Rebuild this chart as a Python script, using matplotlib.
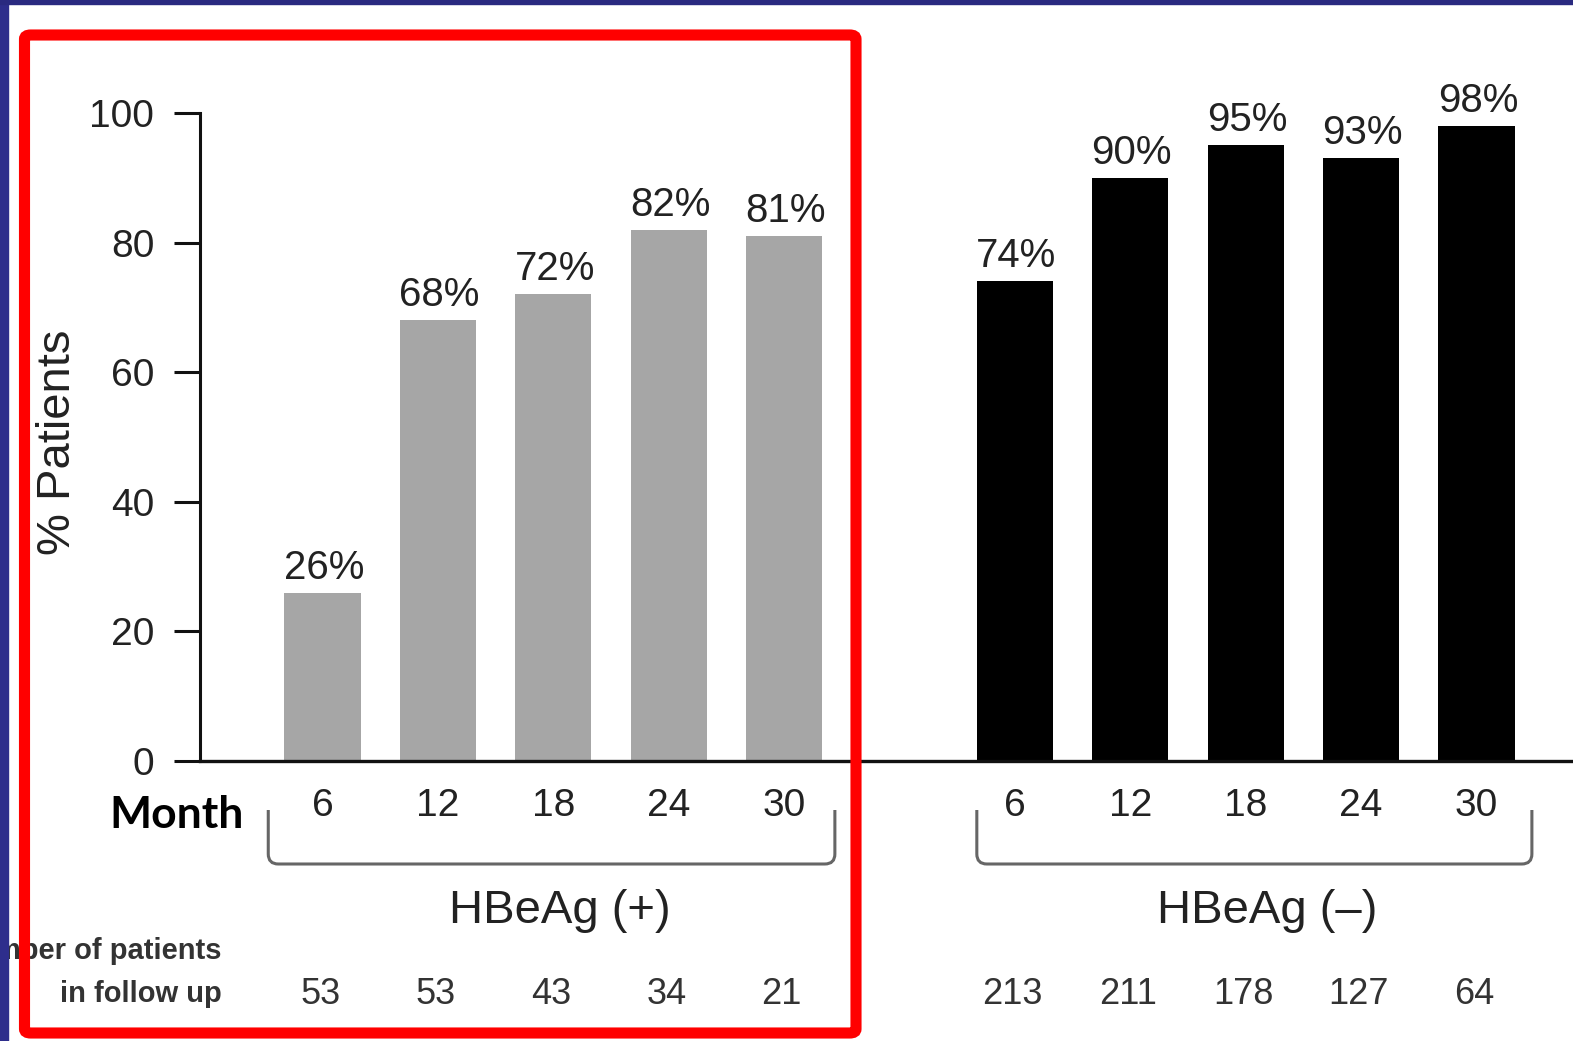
import matplotlib
matplotlib.use("Agg")
import matplotlib.pyplot as plt
from matplotlib.patches import Rectangle, FancyBboxPatch, PathPatch
from matplotlib.path import Path
from matplotlib.transforms import blended_transform_factory

# Data
months = ["6", "12", "18", "24", "30"]
hbeag_pos = [26, 68, 72, 82, 81]
hbeag_neg = [74, 90, 95, 93, 98]
n_pos = [53, 53, 43, 34, 21]
n_neg = [213, 211, 178, 127, 64]
group_labels = ["HBeAg (+)", "HBeAg (\u2013)"]
yticks = [0, 20, 40, 60, 80, 100]

W, H = 1573, 1041
fig = plt.figure(figsize=(W / 100, H / 100), dpi=100)
fig.patch.set_facecolor("white")

plt.rcParams["font.family"] = ["Liberation Sans", "DejaVu Sans"]
TXT = "#222222"

ax = fig.add_axes([200 / W, (H - 761) / H, 1 - 200 / W, (761 - 113) / H])
ax.set_facecolor("none")

gap = 6  # second group offset
pos_x = [i for i in range(len(months))]
neg_x = [i + gap for i in range(len(months))]
bw = 0.66

ax.bar(pos_x, hbeag_pos, width=bw, color="#a6a6a6", zorder=2)
ax.bar(neg_x, hbeag_neg, width=bw, color="#000000", zorder=2)

for xs, vals in ((pos_x, hbeag_pos), (neg_x, hbeag_neg)):
    for x, v in zip(xs, vals):
        ax.annotate(f"{v}%", (x, v), xytext=(1, 18), textcoords="offset points",
                    ha="center", va="center", fontsize=29, color=TXT,
                    annotation_clip=False)

ax.set_xlim((200 - 322.5) / 115.4, (W - 322.5) / 115.4)
ax.set_ylim(0, 100)
ax.set_yticks(yticks)
ax.set_yticklabels([str(t) for t in yticks], fontsize=28, color=TXT)
ax.tick_params(axis="y", length=19, width=2.2, pad=14, color="#111111")
ax.set_xticks([])
for s in ("top", "right"):
    ax.spines[s].set_visible(False)
ax.spines["left"].set_linewidth(2.2)
ax.spines["bottom"].set_linewidth(2.4)
ax.spines["left"].set_color("#111111")
ax.spines["bottom"].set_color("#111111")

fig.text(58 / W, 1 - 442 / H, "% Patients", rotation=90, ha="center",
         va="center", fontsize=34, color=TXT)

# Blended: x in data units, y in figure fraction (measured from top)
tr = blended_transform_factory(ax.transData, fig.transFigure)


def fy(py):
    return 1 - py / H


# Month numbers and follow-up counts
for xs, counts in ((pos_x, n_pos), (neg_x, n_neg)):
    for x, m, c in zip(xs, months, counts):
        ax.text(x, fy(806), m, transform=tr, ha="center", va="center",
                fontsize=28, color=TXT, clip_on=False)
        ax.text(x - 0.02, fy(994), str(c), transform=tr, ha="center",
                va="center", fontsize=26, color="#333333", clip_on=False)


# Brackets under each group
def bracket(x0, x1, ytop, ybot, r):
    # rounded U-shaped bracket, corners in pixel-space radius r
    rx = r / 115.4
    ry = r / H
    yt, yb = fy(ytop), fy(ybot)
    verts = [(x0, yt), (x0, yb + ry), (x0, yb), (x0 + rx, yb),
             (x1 - rx, yb), (x1, yb), (x1, yb + ry), (x1, yt)]
    codes = [Path.MOVETO, Path.LINETO, Path.CURVE3, Path.CURVE3,
             Path.LINETO, Path.CURVE3, Path.CURVE3, Path.LINETO]
    ax.add_patch(PathPatch(Path(verts, codes), transform=tr, fill=False,
                           edgecolor="#666666", lw=2.2, clip_on=False))


bracket(pos_x[0] - 0.47, pos_x[-1] + 0.44, 810, 864, 10)
bracket(neg_x[0] - 0.33, neg_x[-1] + 0.48, 810, 864, 10)

ax.text(2.06, fy(911), group_labels[0], transform=tr, ha="center",
        va="center", fontsize=34, color=TXT, clip_on=False)
ax.text(gap + 2.19, fy(911), group_labels[1], transform=tr, ha="center",
        va="center", fontsize=34, color=TXT, clip_on=False)

fig.text(244 / W, fy(815), "Month", ha="right", va="center", fontsize=32,
         fontweight="bold", family=["Lato", "DejaVu Sans"], color="black")

row_font = ["Liberation Sans Narrow", "Liberation Sans", "DejaVu Sans"]
fig.text(222 / W, fy(951), "Number of patients", ha="right", va="center",
         fontsize=21, fontweight="bold", family=row_font, color="#333333")
fig.text(222 / W, fy(994), "in follow up", ha="right", va="center",
         fontsize=21, fontweight="bold", family=row_font, color="#333333")

# Highlight frame around the HBeAg (+) group
fig.patches.append(FancyBboxPatch((24.5 / W, 1 - 1033 / H),
                                  (856 - 24.5) / W, (1033 - 35) / H,
                                  boxstyle="round,pad=0,rounding_size=0.004",
                                  transform=fig.transFigure, fill=False,
                                  edgecolor="#ff0000", lw=8, zorder=10))

# Slide border strips
fig.patches.append(Rectangle((0, 0), 8 / W, 1, transform=fig.transFigure,
                             color="#2e2e8c", zorder=11))
fig.patches.append(Rectangle((0, 1 - 4 / H), 1, 4 / H,
                             transform=fig.transFigure, color="#2a2a80",
                             zorder=11))

fig.savefig("out.png", dpi=100, facecolor="white")
